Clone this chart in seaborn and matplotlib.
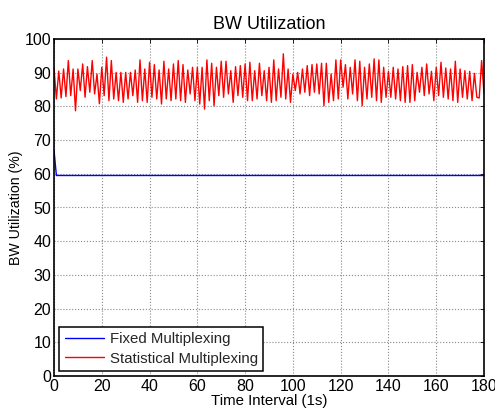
import matplotlib
matplotlib.use("Agg")
import matplotlib.pyplot as plt
import seaborn as sns
import pandas as pd
import numpy as np

# Statistical multiplexing utilization (%), one sample per second
statistical = [
    91.4, 82.2, 90.5, 82.5, 91.1, 82.9, 93.6, 83.2, 91.1, 78.7,
    91.1, 84.7, 92.6, 82.7, 91.8, 84.2, 93.6, 83.7, 89.6, 80.8,
    91.6, 83.2, 94.6, 81.7, 93.6, 82.2, 90.1, 81.7, 90.1, 81.2,
    90.1, 82.2, 90.1, 83.2, 90.8, 81.2, 93.8, 81.7, 91.1, 81.2,
    93.1, 82.7, 92.4, 82.2, 90.8, 80.7, 93.4, 82.2, 91.1, 81.7,
    92.6, 82.2, 93.6, 81.7, 92.4, 81.2, 90.8, 83.7, 91.6, 81.7,
    91.6, 80.7, 91.6, 79.2, 93.8, 81.7, 92.8, 80.2, 91.6, 83.2,
    93.4, 82.7, 93.4, 83.7, 90.6, 81.2, 91.8, 83.2, 92.1, 82.7,
    92.6, 81.7, 93.1, 81.7, 90.6, 82.2, 92.8, 83.2, 90.6, 81.7,
    91.6, 81.2, 93.8, 81.7, 91.1, 82.7, 95.6, 82.2, 91.1, 81.2,
    89.6, 84.7, 90.1, 83.7, 91.1, 84.2, 92.1, 83.2, 92.4, 84.2,
    92.6, 83.7, 92.8, 80.2, 92.8, 81.2, 89.6, 81.7, 93.8, 82.2,
    93.8, 85.7, 92.4, 82.2, 91.6, 83.7, 93.8, 81.7, 93.4, 80.2,
    91.6, 82.2, 92.6, 82.7, 94.1, 81.7, 93.8, 81.2, 91.6, 82.7,
    90.4, 82.7, 91.6, 82.2, 91.1, 81.7, 91.8, 81.2, 92.1, 81.2,
    92.4, 81.7, 90.1, 84.2, 91.6, 83.2, 92.6, 83.7, 90.4, 81.7,
    91.6, 83.2, 93.1, 82.7, 91.4, 82.2, 91.1, 81.7, 93.4, 81.2,
    91.1, 82.7, 90.6, 82.2, 90.4, 81.7, 89.8, 82.7, 82.5, 93.6,
    84.0,
]
# Fixed multiplexing utilization (%)
fixed = [67.0] + [59.5] * (len(statistical) - 1)

series_names = ["Fixed Multiplexing", "Statistical Multiplexing"]
series_colors = ["#0000ff", "#ff0000"]
x_ticks = [0, 20, 40, 60, 80, 100, 120, 140, 160, 180]
y_ticks = [0, 10, 20, 30, 40, 50, 60, 70, 80, 90, 100]

t = np.arange(len(statistical))
df = pd.DataFrame({
    "time": np.concatenate([t, t]),
    "value": fixed + statistical,
    "series": [series_names[0]] * len(t) + [series_names[1]] * len(t),
})

sns.set_theme(style="white")
plt.rcParams["font.family"] = ["Liberation Sans", "DejaVu Sans"]

fig = plt.figure(figsize=(4.95, 4.19), dpi=100)
ax = fig.add_axes([54 / 495, 1 - 376 / 419, (484 - 54) / 495, (376 - 39) / 419])

sns.lineplot(data=df, x="time", y="value", hue="series",
             palette=dict(zip(series_names, series_colors)),
             linewidth=1.0, ax=ax, legend=True)

ax.set_xlim(0, 180)
ax.set_ylim(0, 100)
ax.set_xticks(x_ticks)
ax.set_yticks(y_ticks)
ax.tick_params(axis="both", direction="in", length=3, width=0.6, colors="black",
               labelsize=11.5, top=True, right=True, pad=2)
ax.grid(True, linestyle=":", color="#888888", linewidth=0.8)
for s in ax.spines.values():
    s.set_color("black")
    s.set_linewidth(1.2)
    s.set_visible(True)

ax.set_title("BW Utilization", fontsize=13, color="black", pad=7)
ax.set_xlabel("Time Interval (1s)", fontsize=10.8, color="black", labelpad=0)
ax.set_ylabel("BW Utilization (%)", fontsize=10.2, color="black", labelpad=1)

leg = ax.legend(loc="lower left", fontsize=10.8, frameon=True, fancybox=False,
                edgecolor="black", framealpha=1, handlelength=2.6,
                borderpad=0.35, labelspacing=0.35, handletextpad=0.4,
                borderaxespad=0.35)
leg.get_frame().set_linewidth(1.1)
for line in leg.get_lines():
    line.set_linewidth(1.0)

fig.savefig("out.png", dpi=100)
